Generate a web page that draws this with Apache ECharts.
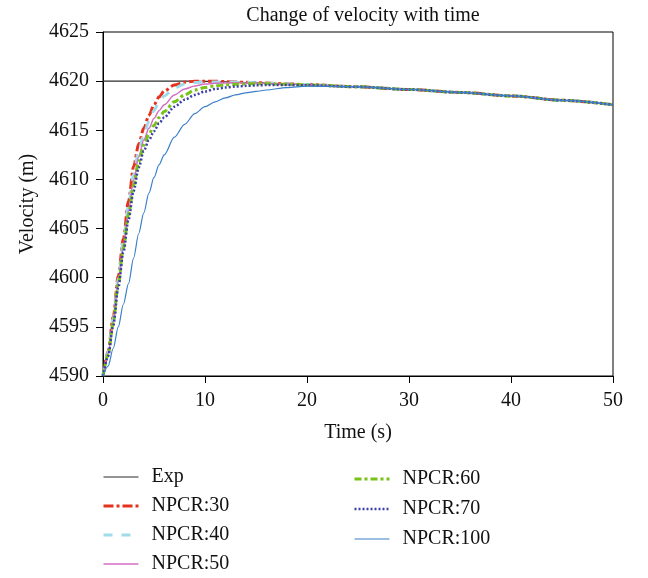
<!DOCTYPE html>
<html><head><meta charset="utf-8">
<script src="https://cdn.jsdelivr.net/npm/echarts@6/dist/echarts.min.js"></script>
<style>html,body{margin:0;padding:0;background:#fff}#c{width:648px;height:578px}</style>
</head><body><div id="c"></div>
<script>
const time = [0,0.5,1,1.5,2,2.5,3,3.5,4,4.5,5,5.5,6,7,8,9,10,11,12,13,14,15,16,18,20,25,30,35,40,45,50];
const tail = [4619.42,4619.15,4618.85,4618.5,4618.05,4617.6];
const exp = [4620,4620,4620,4620,4620,4620,4620,4620,4620,4620,4620,4620,4620,4620,4620,4620,4619.98,4619.96,4619.94,4619.9,4619.86,4619.83,4619.8,4619.72,4619.65].concat(tail);
const npcr30 = [4590,4592.5,4596,4600.2,4604,4607.8,4611.3,4613.6,4615.2,4616.5,4617.6,4618.4,4619.0,4619.6,4619.9,4620.0,4620.0,4620.0,4619.95,4619.92,4619.88,4619.85,4619.8,4619.72,4619.65].concat(tail);
const npcr40 = [4590,4592.4,4595.8,4599.9,4603.7,4607.3,4610.5,4612.9,4614.6,4615.9,4617.0,4617.9,4618.5,4619.3,4619.7,4619.85,4619.9,4619.92,4619.92,4619.9,4619.87,4619.84,4619.8,4619.72,4619.65].concat(tail);
const npcr50 = [4590,4592.3,4595.6,4599.6,4603.3,4606.8,4609.9,4612.3,4614.0,4615.2,4616.2,4617.0,4617.6,4618.6,4619.2,4619.5,4619.7,4619.78,4619.82,4619.83,4619.82,4619.8,4619.77,4619.7,4619.63].concat(tail);
const npcr60 = [4590,4592.2,4595.4,4599.4,4603.0,4606.4,4609.4,4611.8,4613.5,4614.6,4615.5,4616.3,4616.9,4617.9,4618.6,4619.1,4619.35,4619.52,4619.62,4619.68,4619.72,4619.74,4619.74,4619.68,4619.62].concat(tail);
const npcr70 = [4590,4592.0,4595.1,4599.0,4602.6,4605.9,4608.8,4611.2,4612.9,4614.0,4614.9,4615.7,4616.3,4617.4,4618.1,4618.6,4618.95,4619.2,4619.35,4619.45,4619.52,4619.57,4619.6,4619.6,4619.58].concat(tail);
const npcr100 = [4590,4591.0,4592.8,4595.0,4597.3,4599.4,4602.0,4604.5,4606.6,4608.6,4610.2,4611.5,4612.5,4614.3,4615.6,4616.7,4617.4,4617.9,4618.3,4618.6,4618.8,4618.95,4619.1,4619.35,4619.5].concat(tail);
const yTicks = [4590,4595,4600,4605,4610,4615,4620,4625];
const xTicks = [0,10,20,30,40,50];

const font = '"Liberation Serif", "DejaVu Serif", serif';
const fs = 20;
function pairs(v){ return time.map((t,i)=>[t,v[i]]); }
function mk(name, vals, color, width, type){
  return {name, type:'line', data:pairs(vals), symbol:'none', smooth:0.3, smoothMonotone:'x',
    lineStyle:{color, width, type}, itemStyle:{color}, z: 2};
}
const series = [
  mk('Exp', exp, '#2b2b2b', 1.2, 'solid'),
  mk('NPCR:30', npcr30, '#e5321f', 3, [10,3,3,3]),
  mk('NPCR:40', npcr40, '#9fdbe8', 3, [9,9]),
  mk('NPCR:50', npcr50, '#d46fc6', 1.5, 'solid'),
  mk('NPCR:60', npcr60, '#78c21a', 3, [7,3,3,3]),
  mk('NPCR:70', npcr70, '#3c40a8', 2.5, [2,2]),
  mk('NPCR:100', npcr100, '#3a7fc8', 1.2, 'solid')
];
const legendItems = (names) => names.map(n => {
  const s = series.find(x => x.name === n);
  return {name:n, lineStyle:{width:s.lineStyle.width, type:s.lineStyle.type, color:s.lineStyle.color}};
});
const chart = echarts.init(document.getElementById('c'), null, {renderer:'canvas'});
const legendCommon = {orient:'vertical', itemWidth:35, itemHeight:14, itemStyle:{opacity:0},
  textStyle:{fontFamily:font, fontSize:fs, color:'#111', padding:[0,0,0,8]}};
chart.setOption({
  animation:false,
  backgroundColor:'#fff',
  title:{text:'Change of velocity with time', left:358, textAlign:'center', top:1,
    textStyle:{fontFamily:font, fontSize:fs, fontWeight:'normal', color:'#111'}},
  grid:{left:103, top:32, right:35, bottom:202, show:true, borderColor:'#000', borderWidth:1, backgroundColor:'transparent'},
  xAxis:{type:'value', min:0, max:50, interval:10, name:'Time (s)', nameLocation:'middle', nameGap:47,
    nameTextStyle:{fontFamily:font, fontSize:fs, color:'#111'},
    axisLine:{lineStyle:{color:'#000', width:1}}, axisTick:{show:true, length:7, inside:false, lineStyle:{color:'#000'}},
    axisLabel:{fontFamily:font, fontSize:fs, color:'#111', margin:15}, splitLine:{show:false}},
  yAxis:{type:'value', min:4590, max:4625, interval:5, name:'Velocity (m)', nameLocation:'middle', nameGap:64,
    nameTextStyle:{fontFamily:font, fontSize:fs, color:'#111'},
    axisLine:{show:true, lineStyle:{color:'#000', width:1}}, axisTick:{show:true, length:7, inside:false, lineStyle:{color:'#000'}},
    axisLabel:{fontFamily:font, fontSize:fs, color:'#111', margin:14, formatter:(v)=>String(v)}, splitLine:{show:false}},
  legend:[
    Object.assign({}, legendCommon, {data:legendItems(['Exp','NPCR:30','NPCR:40','NPCR:50']), left:97, top:462, height:150, itemGap:9}),
    Object.assign({}, legendCommon, {data:legendItems(['NPCR:60','NPCR:70','NPCR:100']), left:348, top:464, height:130, itemGap:10})
  ],
  series
});
</script></body></html>
